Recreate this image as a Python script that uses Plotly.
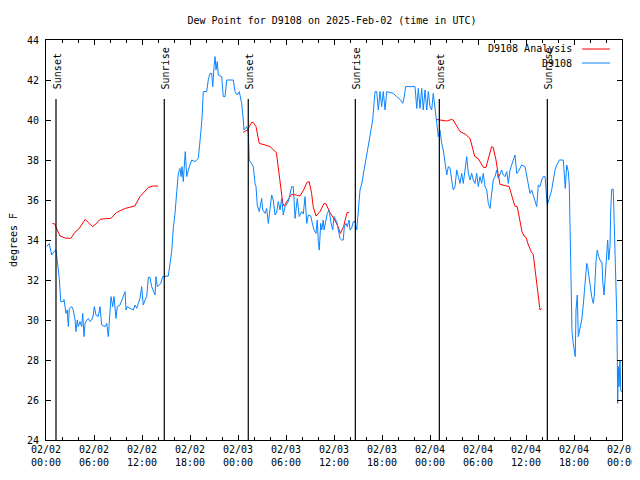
import pandas as pd
import plotly.graph_objects as go

START = pd.Timestamp("2025-02-02 00:00")

# ---- D9108 Analysis (hours since start, deg F); None = gap ----
analysis_hours = [
    0.8, 1.1, 1.3, 1.75, 2.4, 3.1, 3.6, 4.1, 4.9, 5.3, 5.8, 6.1, 6.75, 7.4, 8.1, 8.8,
    9.9, 11.1, 11.75, 12.8, 13.4, 14.0, None,
    24.66, 25.16, 25.7, 25.9, 26.25, 26.66, 27.4, 28.0, 28.8, 29.25, 29.5, 29.6, 29.75,
    30.3, 30.7, 31.3, 31.75, 32.2, 32.6, 32.9, 33.2, 33.4, 33.75, 34.25, 34.75, 35.0,
    35.5, 36.1, 36.5, 36.8, 37.2, 37.5, 37.65, 37.9, None,
    48.75, 49.25, 50.1, 50.7, 50.9, 51.75, 52.4, 53.0, 53.6, 54.0, 54.7, 55.0, 55.4,
    55.7, 55.9, 56.25, 56.5, 56.75, 57.6, 57.9, 58.2, 58.6, 58.9, 59.2, 59.5, 59.75,
    60.0, 60.3, 60.7, 60.9, 61.1, 61.25, 61.4, 61.5, 61.7, 61.75, 61.95,
]
analysis_values = [
    34.83, 34.8, 34.6, 34.2, 34.1, 34.08, 34.38, 34.55, 35.03, 34.87, 34.67, 34.75, 35.03,
    35.07, 35.08, 35.37, 35.58, 35.7, 36.17, 36.63, 36.7, 36.7, None,
    39.38, 39.5, 39.87, 39.88, 39.67, 38.83, 38.75, 38.67, 38.37, 37.0, 36.2, 35.83, 35.7,
    36.0, 36.28, 36.25, 36.2, 36.5, 36.87, 36.92, 36.33, 35.67, 35.2, 35.42, 35.83, 35.8,
    35.37, 35.0, 34.67, 34.33, 34.67, 35.17, 35.38, 35.38, None,
    40.03, 40.0, 39.95, 40.03, 40.0, 39.42, 39.3, 39.08, 38.17, 38.08, 37.62, 37.63, 38.25,
    38.67, 38.63, 38.0, 37.33, 36.78, 36.7, 36.67, 36.25, 35.7, 35.67, 35.08, 34.42, 34.2,
    34.13, 33.75, 33.37, 33.3, 32.63, 32.08, 31.67, 31.17, 30.58, 30.5, 30.58,
]

# ---- D9108 observations (hours since start, deg F) ----
obs_hours = [
    0.09, 0.41, 0.71, 1.0, 1.25, 1.41, 1.66, 1.84, 2.16, 2.25, 2.5, 2.66, 2.79, 2.91, 3.21,
    3.41, 3.63, 3.75, 3.91, 4.04, 4.25, 4.46, 4.59, 4.75, 4.88, 5.09, 5.29, 5.5, 5.71, 5.91,
    6.04, 6.25, 6.54, 6.75, 6.96, 7.38, 7.59, 7.79, 8.0, 8.13, 8.34, 8.5, 8.75, 8.91, 9.25,
    9.66, 9.88, 10.0, 10.16, 10.5, 10.91, 11.13, 11.34, 11.54, 11.75, 11.96, 12.16, 12.38,
    12.59, 12.79, 13.0, 13.21, 13.41, 13.63, 13.75, 13.91, 14.16, 14.34, 14.59, 15.09,
    15.29, 15.5, 15.71, 15.91, 16.13, 16.34, 16.54, 16.75, 16.88, 17.0, 17.16, 17.41, 17.59,
    17.79, 18.21, 18.63, 19.04, 19.34, 19.5, 19.66, 20.09, 20.29, 20.5, 20.71, 20.84, 21.0,
    21.13, 21.25, 21.41, 21.54, 21.96, 22.16, 22.38, 22.59, 23.41, 23.63, 23.91, 24.16,
    24.46, 24.66, 24.75, 25.09, 25.29, 25.41, 25.91, 26.13, 26.25, 26.41, 26.66, 26.96,
    27.09, 27.38, 27.59, 27.79, 28.0, 28.21, 28.41, 28.63, 28.84, 29.04, 29.25, 29.46,
    29.66, 29.88, 30.29, 30.71, 30.91, 31.13, 31.41, 31.66, 31.96, 32.16, 32.38, 32.59,
    32.79, 33.09, 33.34, 33.5, 33.75, 33.91, 34.04, 34.16, 34.34, 34.46, 34.66, 34.75,
    35.0, 35.16, 35.41, 35.59, 35.84, 36.0, 36.34, 36.54, 36.75, 36.96, 37.16, 37.29,
    37.5, 37.66, 37.88, 38.0, 38.21, 38.41, 38.63, 38.84, 39.04, 39.25, 39.46, 39.75,
    40.0, 40.29, 40.59, 40.84, 41.0, 41.13, 41.34, 41.54, 41.75, 41.96, 42.16, 42.38,
    42.59, 43.21, 43.41, 43.84, 44.25, 44.59, 44.75, 44.96, 46.13, 46.34, 46.54, 46.75,
    46.96, 47.16, 47.38, 47.59, 47.79, 48.0, 48.21, 48.41, 48.63, 48.84, 49.04, 49.25,
    49.46, 49.66, 49.88, 50.09, 50.29, 50.5, 50.71, 50.91, 51.13, 51.34, 51.54, 51.75,
    51.96, 52.16, 52.38, 52.59, 52.79, 53.0, 53.21, 53.41, 53.63, 53.84, 54.04, 54.25,
    54.46, 54.66, 54.88, 55.09, 55.29, 55.5, 55.71, 55.91, 56.13, 56.34, 56.54, 56.75,
    56.96, 57.16, 57.38, 57.59, 57.79, 58.0, 58.21, 58.41, 58.63, 58.84, 59.04, 59.46,
    59.88, 60.09, 60.29, 60.5, 60.71, 60.91, 61.13, 61.34, 61.54, 61.75, 61.96, 62.16,
    62.38, 62.5, 62.66, 62.91, 63.21, 63.41, 63.63, 63.84, 64.16, 64.66, 64.75, 64.91,
    65.09, 65.29, 65.41, 65.5, 65.59, 65.75, 65.91, 66.09, 66.16, 66.25, 66.41, 66.54,
    66.75, 66.96, 67.16, 67.38, 67.59, 67.71, 67.91, 68.09, 68.21, 68.41, 68.54, 68.75,
    68.91, 69.09, 69.34, 69.5, 69.59, 69.75, 69.91, 70.09, 70.21, 70.34, 70.5, 70.59,
    70.71, 70.91, 71.0, 71.13, 71.34, 71.41, 71.46, 71.54, 71.63, 71.75, 71.84, 71.94,
]
obs_values = [
    33.67, 33.83, 33.25, 33.42, 33.5, 33.0, 32.08, 30.92, 30.92, 31.03, 30.33, 30.5, 29.67,
    30.58, 30.67, 30.5, 30.0, 29.42, 30.0, 29.67, 29.92, 29.67, 30.33, 29.17, 29.83, 30.0,
    30.08, 29.92, 30.0, 30.25, 30.67, 30.25, 30.17, 30.67, 29.75, 29.67, 29.83, 29.17, 30.5,
    31.17, 30.67, 31.17, 30.08, 30.67, 30.75, 31.25, 31.42, 30.5, 30.67, 30.58, 30.5, 30.75,
    30.58, 30.83, 31.08, 31.67, 30.75, 31.0, 31.17, 32.13, 32.13, 31.67, 31.5, 31.25, 32.17,
    31.67, 31.75, 31.83, 32.17, 32.17, 32.2, 32.83, 33.42, 34.58, 35.33, 36.42, 37.33,
    37.58, 37.17, 37.67, 36.92, 38.42, 37.17, 37.5, 38.0, 37.92, 38.08, 39.33, 40.08, 41.42,
    41.42, 42.03, 42.33, 42.33, 41.67, 42.67, 43.17, 42.5, 42.92, 42.25, 42.17, 41.17, 41.17,
    42.0, 42.0, 41.42, 41.25, 41.42, 40.83, 40.0, 39.5, 39.67, 39.33, 38.0, 37.67, 36.83,
    36.67, 35.75, 35.42, 36.08, 35.5, 35.33, 35.58, 34.83, 35.67, 36.25, 36.0, 35.25, 35.4,
    35.92, 35.5, 36.08, 35.25, 35.67, 35.92, 36.67, 36.67, 35.08, 36.08, 35.17, 35.42, 35.3,
    36.17, 34.83, 35.25, 35.2, 34.75, 34.5, 34.33, 35.0, 33.92, 33.5, 34.83, 34.5, 35.0,
    34.5, 35.0, 35.33, 35.5, 34.92, 34.5, 35.17, 34.92, 34.5, 34.08, 34.0, 34.0, 34.67,
    34.83, 34.67, 35.0, 34.5, 34.6, 34.92, 34.92, 34.5, 35.5, 36.5, 36.8, 37.5, 38.0, 38.83,
    39.5, 40.0, 40.83, 41.42, 41.42, 40.5, 41.42, 40.67, 41.42, 40.5, 41.42, 41.33, 41.33,
    41.17, 41.03, 40.83, 41.1, 41.67, 41.67, 40.58, 41.58, 40.58, 41.58, 40.5, 41.5, 40.5,
    41.42, 40.67, 40.5, 41.33, 40.67, 39.83, 39.17, 39.5, 38.83, 38.5, 37.83, 37.25, 37.67,
    37.6, 37.0, 36.5, 36.67, 37.5, 37.17, 36.83, 37.33, 36.83, 37.5, 38.17, 37.33, 37.0,
    37.33, 37.0, 36.83, 37.33, 36.67, 37.17, 36.83, 37.33, 36.67, 36.5, 35.83, 35.58, 36.33,
    37.0, 37.17, 37.5, 37.08, 37.33, 37.5, 37.25, 37.17, 37.42, 36.83, 37.5, 37.83, 38.0,
    38.25, 37.33, 37.42, 37.75, 37.67, 37.17, 36.67, 36.33, 36.5, 36.25, 36.0, 35.67, 36.75,
    36.67, 37.0, 37.17, 37.17, 36.67, 35.75, 36.08, 36.5, 37.0, 37.5, 37.75, 38.0, 38.0,
    37.5, 36.58, 37.75, 37.42, 36.75, 34.67, 31.33, 29.42, 28.83, 28.42, 28.17, 30.5, 31.25,
    29.17, 29.58, 30.0, 30.75, 31.75, 32.83, 32.67, 32.0, 31.67, 31.17, 30.83, 31.25, 32.92,
    33.5, 33.17, 32.92, 32.9, 31.92, 31.25, 32.33, 33.67, 34.0, 33.0, 33.67, 35.5, 36.53,
    36.53, 35.33, 33.0, 30.33, 28.17, 25.83, 27.67, 26.67, 28.0, 26.5, 26.4,
]

# ---- Sun events ----
sun_labels = ["Sunset", "Sunrise", "Sunset", "Sunrise", "Sunset", "Sunrise"]
sun_times = ["2025-02-02 01:15", "2025-02-02 14:47", "2025-02-03 01:17",
             "2025-02-03 14:40", "2025-02-04 01:10", "2025-02-04 14:40"]

# ---- Axis ticks ----
x_tick_hours = [0, 6, 12, 18, 24, 30, 36, 42, 48, 54, 60, 66, 72]
x_tick_text = ["02/02<br>00:00", "02/02<br>06:00", "02/02<br>12:00", "02/02<br>18:00",
               "02/03<br>00:00", "02/03<br>06:00", "02/03<br>12:00", "02/03<br>18:00",
               "02/04<br>00:00", "02/04<br>06:00", "02/04<br>12:00", "02/04<br>18:00",
               "02/05<br>00:00"]
y_ticks = [24, 26, 28, 30, 32, 34, 36, 38, 40, 42, 44]

series_names = ["D9108 Analysis", "D9108"]
series_colors = ["#ff0000", "#0a84ff"]


def to_time(hours):
    return [None if h is None else START + pd.Timedelta(hours=h) for h in hours]


FONT = dict(family="DejaVu Sans Mono", size=10, color="black")

fig = go.Figure()
fig.add_trace(go.Scatter(x=to_time(analysis_hours), y=analysis_values, mode="lines",
                         name=series_names[0], connectgaps=False,
                         line=dict(color=series_colors[0], width=1)))
fig.add_trace(go.Scatter(x=to_time(obs_hours), y=obs_values, mode="lines",
                         name=series_names[1],
                         line=dict(color=series_colors[1], width=1)))

# Sunrise / sunset markers
for lab, t in zip(sun_labels, sun_times):
    fig.add_shape(type="line", xref="x", yref="paper", x0=t, x1=t, y0=0, y1=0.8525,
                  line=dict(color="black", width=1.2))
    fig.add_annotation(x=t, xref="x", yref="paper", y=0.872, text=lab, textangle=-90,
                       showarrow=False, xanchor="center", yanchor="bottom", xshift=1,
                       font=FONT)

# Gnuplot-style legend (text on the left, sample on the right)
legend_rows = [0.9775, 0.9425]
for name, col, yy in zip(series_names, series_colors, legend_rows):
    fig.add_annotation(x=0.9167, y=yy, xref="paper", yref="paper", text=name,
                       showarrow=False, xanchor="right", yanchor="middle", font=FONT)
    fig.add_shape(type="line", xref="paper", yref="paper", x0=0.9306, x1=0.9792,
                  y0=yy, y1=yy, line=dict(color=col, width=1))

# The page body adds an 8px offset; margins compensate so the plot sits where it should.
fig.update_layout(
    width=640, height=480,
    margin=dict(l=38, r=26, t=32, b=48),
    paper_bgcolor="white", plot_bgcolor="white",
    font=FONT,
    showlegend=False,
    title=dict(text="Dew Point for D9108 on 2025-Feb-02 (time in UTC)",
               x=324 / 640, xanchor="center", y=(480 - 12) / 480, yanchor="middle",
               font=FONT),
)
fig.update_xaxes(
    range=[START, START + pd.Timedelta(hours=72)],
    tickvals=to_time(x_tick_hours), ticktext=x_tick_text,
    ticks="inside", ticklen=5, tickcolor="black", tickwidth=1,
    minor=dict(dtick=2 * 3600 * 1000, ticks="inside", ticklen=3,
               tickcolor="black", tickwidth=1),
    showline=True, linecolor="black", linewidth=1, mirror="ticks",
    showgrid=False, zeroline=False, tickfont=FONT, automargin=False,
    ticklabeloverflow="allow",
)
fig.update_yaxes(
    range=[24, 44], tickvals=y_ticks,
    ticks="inside", ticklen=5, tickcolor="black", tickwidth=1,
    showline=True, linecolor="black", linewidth=1, mirror="ticks",
    showgrid=False, zeroline=False, tickfont=FONT, automargin=False,
    title=dict(text="degrees F", font=FONT, standoff=12),
    ticklabelstandoff=4,
)

fig.write_html("out.html")
